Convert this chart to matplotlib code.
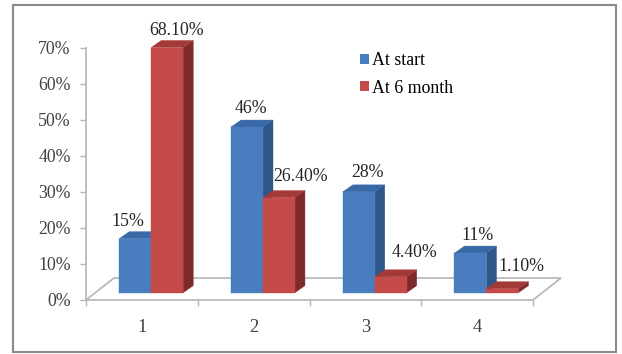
import numpy as np
import matplotlib
matplotlib.use("Agg")
import matplotlib.pyplot as plt
from matplotlib.patches import Polygon, Patch, Rectangle

# Data
categories = ["1", "2", "3", "4"]
at_start = [15, 46, 28, 11]
at_6_month = [68.10, 26.40, 4.40, 1.10]
start_labels = ["15%", "46%", "28%", "11%"]
month_labels = ["68.10%", "26.40%", "4.40%", "1.10%"]
series_names = ["At start", "At 6 month"]

# colours (front, top, side)
blue = ("#4a7dc0", "#3a69a8", "#2f5689")
red = ("#c44b48", "#a43a38", "#7f2a2a")

plt.rcParams["font.family"] = ["Liberation Serif", "DejaVu Serif"]
fs = 12.8

W, H = 622, 354
fig = plt.figure(figsize=(W / 100, H / 100), dpi=100)
ax = fig.add_axes([86 / W, 54 / H, 447 / W, 252 / H])
ax.set_xlim(0.5, 4.5)
ax.set_ylim(0, 70)
ax.patch.set_alpha(0)

# frame around the chart
fig.patches.append(Rectangle((13 / W, 2 / H), 603 / W, 347 / H, transform=fig.transFigure,
                             fill=False, edgecolor="#8a8a8a", linewidth=1.5))

# 3d depth vectors in data units (cat, %)
floor_d = np.array([0.25, 6.1])
bar_off = floor_d / 3
bar_d = np.array([0.09, 1.95])
bar_w = 0.286

# floor
x0, x1 = 0.5, 4.5
floor = [(x0, 0), (x1, 0), (x1 + floor_d[0], floor_d[1]), (x0 + floor_d[0], floor_d[1])]
ax.add_patch(Polygon(floor, closed=True, facecolor="white", edgecolor="#b4b4b4",
                     linewidth=1.2, clip_on=False, zorder=1))


def bar3d(left, h, cols):
    bx = left + bar_off[0]
    by = bar_off[1]
    dx, dy = bar_d
    front = [(bx, by), (bx + bar_w, by), (bx + bar_w, by + h), (bx, by + h)]
    top = [(bx, by + h), (bx + bar_w, by + h), (bx + bar_w + dx, by + h + dy), (bx + dx, by + h + dy)]
    side = [(bx + bar_w, by), (bx + bar_w + dx, by + dy), (bx + bar_w + dx, by + h + dy), (bx + bar_w, by + h)]
    for poly, c in zip((side, top, front), (cols[2], cols[1], cols[0])):
        ax.add_patch(Polygon(poly, closed=True, facecolor=c, edgecolor=c, linewidth=0.3,
                             clip_on=False, zorder=3))
    return bx + bar_w / 2, by + h


xs = np.arange(1, len(categories) + 1)
start_dx = [-7, 4, 9, 7]
start_dy = [17, 19, 19, 18]
month_dx = [9, 22, 24, 19]
month_dy = [17, 21, 24, 22]
for i, x in enumerate(xs):
    cx, cy = bar3d(x - bar_w, at_start[i], blue)
    ax.annotate(start_labels[i], (cx, cy), xytext=(start_dx[i] * 0.72, start_dy[i] * 0.72),
                textcoords="offset points", ha="center", va="center", fontsize=fs,
                color="#262626", zorder=5, annotation_clip=False)
    cx, cy = bar3d(x, at_6_month[i], red)
    ax.annotate(month_labels[i], (cx, cy), xytext=(month_dx[i] * 0.72, month_dy[i] * 0.72),
                textcoords="offset points", ha="center", va="center", fontsize=fs,
                color="#262626", zorder=5, annotation_clip=False)

# axes styling
for s in ["top", "right", "bottom"]:
    ax.spines[s].set_visible(False)
ax.spines["left"].set_color("#b4b4b4")
ax.spines["left"].set_linewidth(1.2)
ax.set_yticks(np.arange(0, 71, 10))
ax.set_yticklabels([f"{v}%" for v in range(0, 71, 10)])
ax.tick_params(axis="y", length=4, width=1, color="#b4b4b4", pad=7, labelsize=fs,
               labelcolor="#404040")
ax.set_xticks(xs)
ax.set_xticklabels(categories)
ax.set_xticks(np.arange(0.5, 4.6, 1), minor=True)
ax.tick_params(axis="x", which="major", length=0, pad=14, labelsize=fs + 0.5, labelcolor="#404040")
ax.tick_params(axis="x", which="minor", length=4, width=1, color="#b4b4b4")

# legend
handles = [Patch(facecolor=blue[0]), Patch(facecolor=red[0])]
fig.legend(handles, series_names, loc="upper left", bbox_to_anchor=(360 / W, 1 - 52 / H),
           frameon=False, fontsize=fs, handlelength=0.5, handleheight=0.5,
           handletextpad=0.2, labelspacing=0.6, borderpad=0, borderaxespad=0)

fig.savefig("out.png", dpi=100)
